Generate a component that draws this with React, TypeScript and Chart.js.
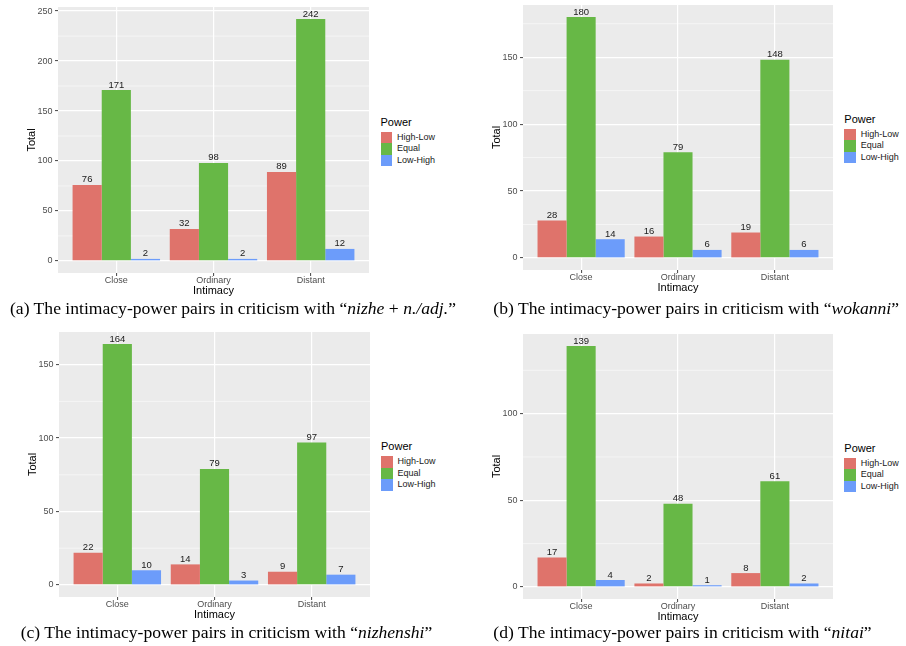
import React, { useEffect, useRef } from 'react';
import { Chart, registerables } from 'chart.js';

Chart.register(...registerables);

// ---------- data ----------
const categories = ['Close', 'Ordinary', 'Distant'];
const seriesNames = ['High-Low', 'Equal', 'Low-High'];
const seriesColors = ['#DF736B', '#67B846', '#6C9CFA'];

// (a) nizhe + n./adj.
const nizheHighLow = [76, 32, 89];
const nizheEqual = [171, 98, 242];
const nizheLowHigh = [2, 2, 12];
const nizheMajorTicks = [0, 50, 100, 150, 200, 250];
const nizheMinorTicks = [25, 75, 125, 175, 225];

// (b) wokanni
const wokanniHighLow = [28, 16, 19];
const wokanniEqual = [180, 79, 148];
const wokanniLowHigh = [14, 6, 6];
const wokanniMajorTicks = [0, 50, 100, 150];
const wokanniMinorTicks = [25, 75, 125, 175];

// (c) nizhenshi
const nizhenshiHighLow = [22, 14, 9];
const nizhenshiEqual = [164, 79, 97];
const nizhenshiLowHigh = [10, 3, 7];
const nizhenshiMajorTicks = [0, 50, 100, 150];
const nizhenshiMinorTicks = [25, 75, 125];

// (d) nitai
const nitaiHighLow = [17, 2, 8];
const nitaiEqual = [139, 48, 61];
const nitaiLowHigh = [4, 1, 2];
const nitaiMajorTicks = [0, 50, 100];
const nitaiMinorTicks = [25, 75, 125];

// ---------- layout / style ----------
const SANS = '"Liberation Sans", Arial, Helvetica, sans-serif';
const SERIF = '"Liberation Serif", "Times New Roman", Times, serif';
const YW = 50; // y axis box width
const PT = 4; // top padding
const PR = 4; // right padding
const XH = 28; // x axis box height

type Box = { l: number; t: number; r: number; b: number };

type PanelSpec = {
  highLow: number[];
  equal: number[];
  lowHigh: number[];
  majorTicks: number[];
  minorTicks: number[];
  box: Box;
  legendX: number;
  legendBaseline: number;
  captionLeft: number;
  captionBaseline: number;
  captionPrefix: string;
  captionItalic: React.ReactNode;
};

const panels: PanelSpec[] = [
  {
    highLow: nizheHighLow, equal: nizheEqual, lowHigh: nizheLowHigh,
    majorTicks: nizheMajorTicks, minorTicks: nizheMinorTicks,
    box: { l: 58, t: 7, r: 369, b: 273 },
    legendX: 380.5, legendBaseline: 126,
    captionLeft: 10, captionBaseline: 314.5,
    captionPrefix: '(a) The intimacy-power pairs in criticism with \u201c',
    captionItalic: (<><i>nizhe</i> + <i>n./adj.</i></>),
  },
  {
    highLow: wokanniHighLow, equal: wokanniEqual, lowHigh: wokanniLowHigh,
    majorTicks: wokanniMajorTicks, minorTicks: wokanniMinorTicks,
    box: { l: 523, t: 5, r: 833, b: 270 },
    legendX: 844.3, legendBaseline: 123,
    captionLeft: 493.3, captionBaseline: 314.5,
    captionPrefix: '(b) The intimacy-power pairs in criticism with \u201c',
    captionItalic: (<i>wokanni</i>),
  },
  {
    highLow: nizhenshiHighLow, equal: nizhenshiEqual, lowHigh: nizhenshiLowHigh,
    majorTicks: nizhenshiMajorTicks, minorTicks: nizhenshiMinorTicks,
    box: { l: 59, t: 332, r: 370, b: 597 },
    legendX: 381, legendBaseline: 450.7,
    captionLeft: 20.7, captionBaseline: 638.5,
    captionPrefix: '(c) The intimacy-power pairs in criticism with \u201c',
    captionItalic: (<i>nizhenshi</i>),
  },
  {
    highLow: nitaiHighLow, equal: nitaiEqual, lowHigh: nitaiLowHigh,
    majorTicks: nitaiMajorTicks, minorTicks: nitaiMinorTicks,
    box: { l: 523, t: 334, r: 833, b: 599 },
    legendX: 844.3, legendBaseline: 452,
    captionLeft: 493.3, captionBaseline: 638.5,
    captionPrefix: '(d) The intimacy-power pairs in criticism with \u201c',
    captionItalic: (<i>nitai</i>),
  },
];

function BarPanel({ spec }: { spec: PanelSpec }) {
  const ref = useRef<HTMLCanvasElement>(null);
  const { l, t, r, b } = spec.box;
  const width = r - l + YW + PR;
  const height = b - t + PT + XH;

  useEffect(() => {
    if (!ref.current) return;
    const series = [spec.highLow, spec.equal, spec.lowHigh];
    const maxVal = Math.max(...series.flat());

    const background = {
      id: 'ggBackground',
      beforeDraw(chart: any) {
        const { ctx, chartArea: a, scales } = chart;
        ctx.save();
        ctx.fillStyle = '#EBEBEB';
        ctx.fillRect(a.left, a.top, a.right - a.left, a.bottom - a.top);
        ctx.strokeStyle = 'rgba(255,255,255,0.75)';
        ctx.lineWidth = 0.7;
        spec.minorTicks.forEach((v) => {
          const y = scales.y.getPixelForValue(v);
          ctx.beginPath();
          ctx.moveTo(a.left, y);
          ctx.lineTo(a.right, y);
          ctx.stroke();
        });
        ctx.restore();
      },
    };

    const valueLabels = {
      id: 'valueLabels',
      afterDatasetsDraw(chart: any) {
        const ctx = chart.ctx;
        ctx.save();
        ctx.font = `9.5px ${SANS}`;
        ctx.fillStyle = '#1A1A1A';
        ctx.textAlign = 'center';
        ctx.textBaseline = 'alphabetic';
        chart.data.datasets.forEach((ds: any, i: number) => {
          const meta = chart.getDatasetMeta(i);
          meta.data.forEach((el: any, j: number) => {
            ctx.fillText(String(ds.data[j].y), el.x, el.y - 2.5);
          });
        });
        ctx.restore();
      },
    };

    const chart = new Chart(ref.current, {
      type: 'bar',
      data: {
        datasets: series.map((vals, k) => ({
          label: seriesNames[k],
          data: vals.map((v, i) => ({ x: i + 1, y: v })),
          backgroundColor: seriesColors[k],
          borderWidth: 0,
          categoryPercentage: 0.9,
          barPercentage: 1.0,
        })),
      },
      options: {
        animation: false,
        responsive: false,
        devicePixelRatio: 1,
        layout: { padding: { left: 0, top: PT, right: PR, bottom: 0 } },
        plugins: {
          legend: { display: false },
          tooltip: { enabled: false },
        },
        scales: {
          x: {
            type: 'linear',
            min: 0.4,
            max: 3.6,
            offset: false,
            afterBuildTicks: (s: any) => {
              s.ticks = categories.map((_, i) => ({ value: i + 1 }));
            },
            afterFit: (s: any) => {
              s.height = XH;
              s.paddingLeft = 0;
              s.paddingRight = 0;
            },
            grid: {
              offset: false,
              color: '#FFFFFF',
              lineWidth: 1.2,
              tickColor: '#444444',
              tickWidth: 1,
              tickLength: 3,
            },
            border: { display: false },
            ticks: {
              autoSkip: false,
              maxRotation: 0,
              padding: 0,
              color: '#4D4D4D',
              font: { family: SANS, size: 9, lineHeight: 1 },
              callback: (v: any) => categories[Math.round(Number(v)) - 1] ?? '',
            },
            title: {
              display: true,
              text: 'Intimacy',
              color: '#000000',
              font: { family: SANS, size: 11 },
              padding: { top: 0, bottom: 3.4 },
            },
          },
          y: {
            type: 'linear',
            min: -0.05 * maxVal,
            max: 1.05 * maxVal,
            afterBuildTicks: (s: any) => {
              s.ticks = spec.majorTicks.map((v) => ({ value: v }));
            },
            afterFit: (s: any) => {
              s.width = YW;
              s.paddingTop = 0;
              s.paddingBottom = 0;
            },
            grid: {
              color: '#FFFFFF',
              lineWidth: 1.2,
              tickColor: '#444444',
              tickWidth: 1,
              tickLength: 3,
            },
            border: { display: false },
            ticks: {
              autoSkip: false,
              padding: 2.5,
              color: '#4D4D4D',
              font: { family: SANS, size: 9, lineHeight: 1 },
              callback: (v: any) => String(v),
            },
            title: {
              display: true,
              text: 'Total',
              color: '#000000',
              font: { family: SANS, size: 11 },
              padding: { top: 17.4, bottom: 0 },
            },
          },
        },
      } as any,
      plugins: [background, valueLabels],
    });
    return () => chart.destroy();
  }, [spec]);

  return (
    <canvas
      ref={ref}
      width={width}
      height={height}
      style={{ position: 'absolute', left: l - YW, top: t - PT, width, height, display: 'block' }}
    />
  );
}

function Legend({ x, baseline }: { x: number; baseline: number }) {
  const keysTop = baseline + 5.7;
  const keyH = 11.5;
  return (
    <>
      <div
        style={{
          position: 'absolute', left: x, top: baseline - 9.3,
          fontFamily: SANS, fontSize: 11, lineHeight: '11px', color: '#000', whiteSpace: 'nowrap',
        }}
      >
        Power
      </div>
      {seriesNames.map((name, i) => (
        <React.Fragment key={name}>
          <div
            style={{
              position: 'absolute', left: x, top: keysTop + i * keyH,
              width: 11.5, height: keyH, background: seriesColors[i],
            }}
          />
          <div
            style={{
              position: 'absolute', left: x + 16.5, top: keysTop + i * keyH, height: keyH,
              fontFamily: SANS, fontSize: 9, lineHeight: `${keyH}px`, color: '#1A1A1A', whiteSpace: 'nowrap',
            }}
          >
            {name}
          </div>
        </React.Fragment>
      ))}
    </>
  );
}

function Caption({ spec }: { spec: PanelSpec }) {
  const fs = 17.6;
  return (
    <div
      style={{
        position: 'absolute', left: spec.captionLeft, top: spec.captionBaseline - 0.8375 * fs,
        fontFamily: SERIF, fontSize: fs, lineHeight: `${fs}px`, color: '#000', whiteSpace: 'nowrap',
      }}
    >
      {spec.captionPrefix}
      {spec.captionItalic}
      {'\u201d'}
    </div>
  );
}

export default function App() {
  return (
    <div
      style={{
        position: 'absolute', left: 0, top: 0, width: 906, height: 646,
        background: '#FFFFFF', overflow: 'hidden',
      }}
    >
      {panels.map((p, i) => (
        <React.Fragment key={i}>
          <BarPanel spec={p} />
          <Legend x={p.legendX} baseline={p.legendBaseline} />
          <Caption spec={p} />
        </React.Fragment>
      ))}
    </div>
  );
}
